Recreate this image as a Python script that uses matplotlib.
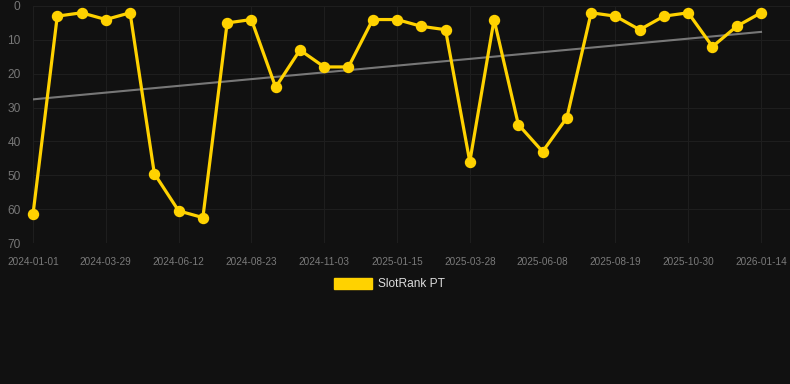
import numpy as np
import matplotlib.pyplot as plt
from matplotlib.patches import Patch

plt.rcParams['font.family'] = ['Liberation Sans', 'DejaVu Sans']

# ranking per period (lower is better)
rank = [61.5, 3, 2, 4, 2, 49.5, 60.5, 62.5, 5, 4,
        24, 13, 18, 18, 4, 4, 6, 7, 46, 4,
        35, 43, 33, 2, 3, 7, 3, 2, 12, 6, 2]
tick_labels = ['2024-01-01', '2024-03-29', '2024-06-12', '2024-08-23',
               '2024-11-03', '2025-01-15', '2025-03-28', '2025-06-08',
               '2025-08-19', '2025-10-30', '2026-01-14']
series_name = 'SlotRank PT'

bg = '#111111'
gold = '#FFD200'

fig = plt.figure(figsize=(7.9, 3.84), dpi=100, facecolor=bg)
ax = fig.add_axes([33 / 790, 1 - 243 / 384, 757 / 790, 237 / 384])
ax.set_facecolor(bg)

x = np.arange(len(rank))
ax.plot(x, rank, color=gold, linewidth=2.3, marker='o', markersize=7.2,
        zorder=3, clip_on=False)

# linear trend
k, b = np.polyfit(x, rank, 1)
ax.plot(x, k * x + b, color='#8a8a8a', linewidth=1.5, alpha=0.85, zorder=2)

ax.set_xlim(0, 30 + 29 / 24.27)
ax.set_ylim(70, 0)
ax.set_yticks(range(0, 71, 10))
ax.set_xticks(range(0, 31, 3))
ax.set_xticklabels(tick_labels)

ax.tick_params(axis='x', colors='#7a7a7a', labelsize=7.2, length=0, pad=10)
ax.tick_params(axis='y', colors='#777777', labelsize=8.6, length=0, pad=9)
ax.grid(True, color='#1e1e1e', linewidth=0.8)
for s in ax.spines.values():
    s.set_visible(False)

fig.legend(handles=[Patch(facecolor=gold, edgecolor=gold)], labels=[series_name],
           loc='center', bbox_to_anchor=(389.5 / 790, 1 - 284 / 384), frameon=False,
           fontsize=8.6, labelcolor='#dddddd', handlelength=3.25, handleheight=1.1,
           handletextpad=0.5)

fig.savefig('out.png', dpi=100, facecolor=bg)
